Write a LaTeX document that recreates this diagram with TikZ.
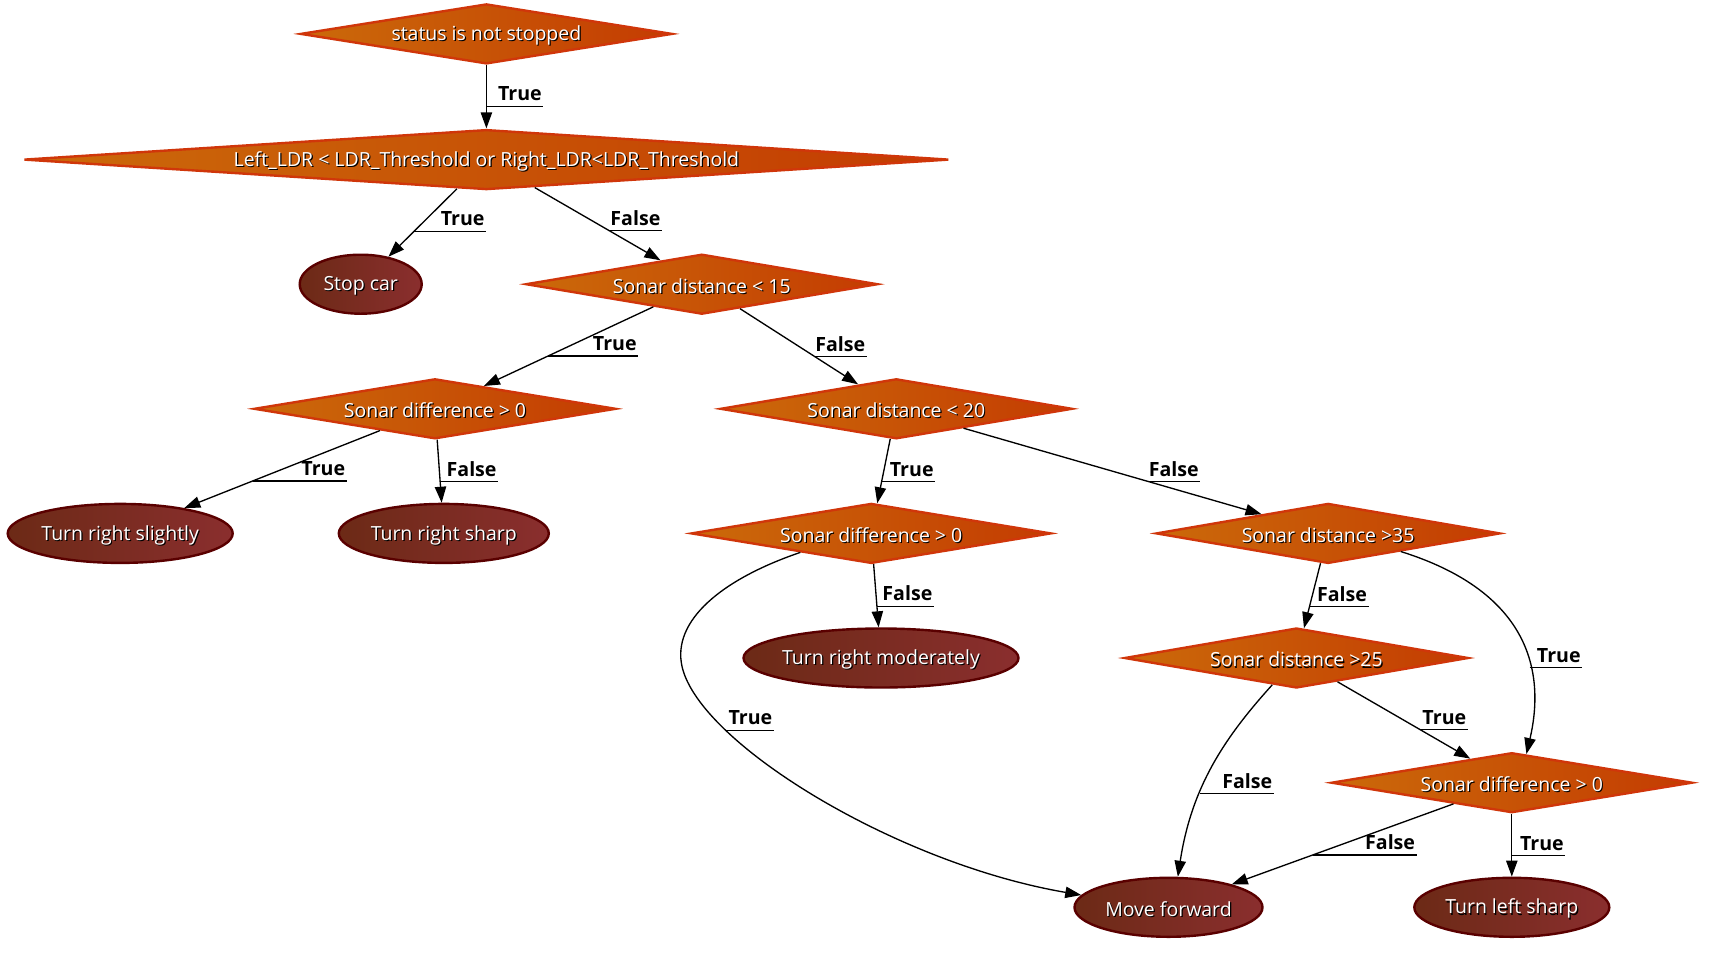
\documentclass[tikz,border=0pt]{standalone}
\usepackage{fontspec}
\setmainfont{Open Sans}
\usetikzlibrary{shapes.geometric,arrows.meta}
\definecolor{dleft}{HTML}{CB6A0A}
\definecolor{dright}{HTML}{C43C02}
\definecolor{dborder}{HTML}{D0360A}
\definecolor{eleft}{HTML}{6C2A16}
\definecolor{eright}{HTML}{8A2E2E}
\definecolor{eborder}{HTML}{5A0000}
\newcommand\shtxt[1]{\makebox[0pt][l]{\kern0.9pt\raisebox{-0.9pt}{\textcolor{black}{#1}}}\textcolor{white}{#1}}
\begin{document}
\begin{tikzpicture}[x=0.75pt,y=-0.75pt,
  dec/.style={diamond, draw=dborder, line width=1.8pt, left color=dleft, right color=dright, inner sep=0pt, minimum height=45pt},
  term/.style={ellipse, draw=eborder, line width=1.8pt, left color=eleft, right color=eright, inner sep=0pt, minimum height=44.25pt},
  txt/.style={font=\fontsize{14.6}{16}\selectfont, inner sep=0pt, yshift=-1.6pt},
  edge/.style={draw=black, line width=1pt, -{Triangle[length=12pt,width=8.5pt]}},
  elab/.style={font=\fontsize{14.7}{16}\selectfont\bfseries, anchor=south east, inner xsep=1pt, inner ysep=1.4pt, text height=11pt, text depth=2.5pt},
  uline/.style={draw=black, line width=0.9pt}
]
\fill[white] (0,0) rectangle (1714,958);
\path[use as bounding box] (0,0) rectangle (1714,958);

% decision nodes
\node[dec, minimum width=279pt, label={[txt]center:\shtxt{status is not stopped}}] (n1) at (486.4,33.9) {};
\node[dec, minimum width=693.75pt, label={[txt]center:\shtxt{Left\_LDR < LDR\_Threshold or Right\_LDR<LDR\_Threshold}}] (n2) at (486.4,159.6) {};
\node[dec, minimum width=264pt, label={[txt]center:\shtxt{Sonar distance < 15}}] (n3) at (701.8,284.2) {};
\node[dec, minimum width=271.5pt, label={[txt]center:\shtxt{Sonar difference > 0}}] (n4) at (435,408.8) {};
\node[dec, minimum width=264pt, label={[txt]center:\shtxt{Sonar distance < 20}}] (n5) at (896.3,408.8) {};
\node[dec, minimum width=270pt, label={[txt]center:\shtxt{Sonar difference > 0}}] (n6) at (871.2,533.4) {};
\node[dec, minimum width=258pt, label={[txt]center:\shtxt{Sonar distance >35}}] (n7) at (1328.1,533.4) {};
\node[dec, minimum width=258pt, label={[txt]center:\shtxt{Sonar distance >25}}] (n8) at (1296.4,658) {};
\node[dec, minimum width=270.75pt, label={[txt]center:\shtxt{Sonar difference > 0}}] (n9) at (1511.8,782.7) {};

% terminal nodes
\node[term, minimum width=91.5pt, label={[txt]center:\shtxt{Stop car}}] (stop) at (360.7,284.2) {};
\node[term, minimum width=168.75pt, label={[txt]center:\shtxt{Turn right slightly}}] (ts) at (120.2,533.4) {};
\node[term, minimum width=157.5pt, label={[txt]center:\shtxt{Turn right sharp}}] (trs) at (443.8,533.4) {};
\node[term, minimum width=206.25pt, label={[txt]center:\shtxt{Turn right moderately}}] (trm) at (881,658) {};
\node[term, minimum width=141pt, label={[txt]center:\shtxt{Move forward}}] (mf) at (1168.5,907.3) {};
\node[term, minimum width=146.25pt, label={[txt]center:\shtxt{Turn left sharp}}] (tls) at (1511.8,907.3) {};

% edges
\draw[edge] (n1) -- (n2) coordinate[pos=.65] (e1);
\node[elab] (l1) at ([xshift=42.75pt]e1) {True};
\draw[uline] (e1) -- (l1.south east);

\draw[edge] (n2) -- (stop) coordinate[pos=.625] (e2);
\node[elab] (l2) at ([xshift=54pt]e2) {True};
\draw[uline] (e2) -- (l2.south east);

\draw[edge] (n2) -- (n3) coordinate[pos=.594] (e3);
\node[elab] (l3) at ([xshift=39.4pt]e3) {False};
\draw[uline] (e3) -- (l3.south east);

\draw[edge] (n3) -- (n4) coordinate[pos=.62] (e4);
\node[elab] (l4) at ([xshift=67.5pt]e4) {True};
\draw[uline] (e4) -- (l4.south east);

\draw[edge] (n3) -- (n5) coordinate[pos=.634] (e5);
\node[elab] (l5) at ([xshift=39pt]e5) {False};
\draw[uline] (e5) -- (l5.south east);

\draw[edge] (n4) -- (ts) coordinate[pos=.65] (e6);
\node[elab] (l6) at ([xshift=70.5pt]e6) {True};
\draw[uline] (e6) -- (l6.south east);

\draw[edge] (n4) -- (trs) coordinate[pos=.667] (e7);
\node[elab] (l7) at ([xshift=43.5pt]e7) {False};
\draw[uline] (e7) -- (l7.south east);

\draw[edge] (n5) -- (n6) coordinate[pos=.667] (e8);
\node[elab] (l8) at ([xshift=40.2pt]e8) {True};
\draw[uline] (e8) -- (l8.south east);

\draw[edge] (n5) -- (n7) coordinate[pos=.62] (e9);
\node[elab] (l9) at ([xshift=39pt]e9) {False};
\draw[uline] (e9) -- (l9.south east);

\draw[edge] (n6) -- (trm) coordinate[pos=.667] (e10);
\node[elab] (l10) at ([xshift=42.75pt]e10) {False};
\draw[uline] (e10) -- (l10.south east);

\draw[edge] (n6.-165) .. controls (721.4,579.3) and (671.6,620.9) .. (682.1,666.8)
  .. controls (699.6,743.3) and (896.3,863.5) .. (mf.172) coordinate[pos=.25] (e11);
\node[elab] (l11) at ([xshift=36pt]e11) {True};
\draw[uline] (e11) -- (l11.south east);

\draw[edge] (n7) -- (n8) coordinate[pos=.667] (e12);
\node[elab] (l12) at ([xshift=44.25pt]e12) {False};
\draw[uline] (e12) -- (l12.south east);

\draw[edge] (n7.-14) .. controls (1524.9,590.3) and (1546.7,666.8) .. (n9.63) coordinate[pos=.65] (e13);
\node[elab] (l13) at ([xshift=39.4pt]e13) {True};
\draw[uline] (e13) -- (l13.south east);

\draw[edge] (n8.-132) .. controls (1224.3,737.8) and (1191.5,787) .. (mf.73) coordinate[pos=.64] (e14);
\node[elab] (l14) at ([xshift=55.5pt]e14) {False};
\draw[uline] (e14) -- (l14.south east);

\draw[edge] (n8) -- (n9) coordinate[pos=.625] (e15);
\node[elab] (l15) at ([xshift=35.5pt]e15) {True};
\draw[uline] (e15) -- (l15.south east);

\draw[edge] (n9) -- (mf) coordinate[pos=.635] (e16);
\node[elab] (l16) at ([xshift=78pt]e16) {False};
\draw[uline] (e16) -- (l16.south east);

\draw[edge] (n9) -- (tls) coordinate[pos=.667] (e17);
\node[elab] (l17) at ([xshift=40.2pt]e17) {True};
\draw[uline] (e17) -- (l17.south east);
\end{tikzpicture}
\end{document}
